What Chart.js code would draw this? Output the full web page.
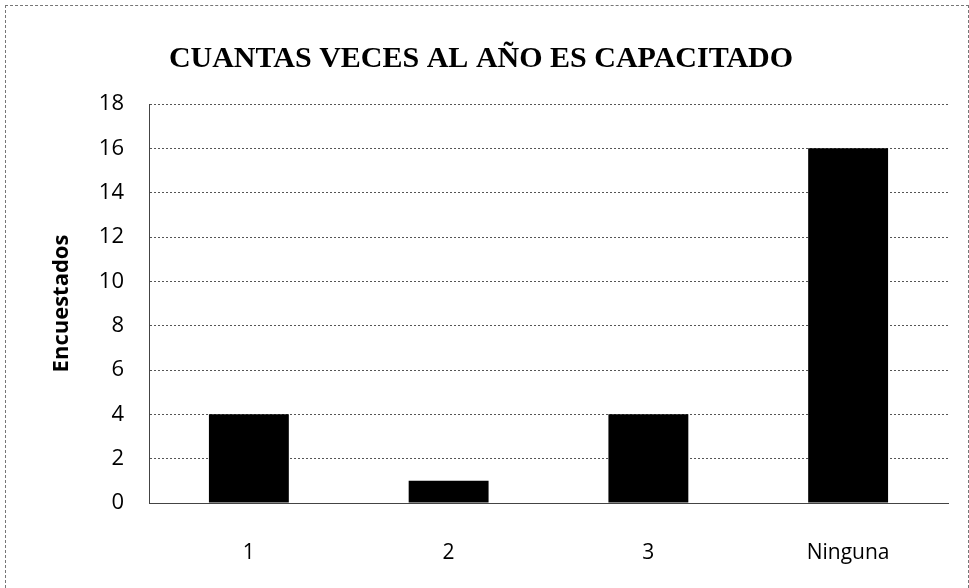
<!DOCTYPE html>
<html>
<head>
<meta charset="utf-8">
<script src="https://cdn.jsdelivr.net/npm/chart.js@4/dist/chart.umd.min.js"></script>
<style>
  html,body{margin:0;padding:0;background:#fff;}
  #wrap{position:absolute;left:5px;top:5px;width:964px;height:583px;box-sizing:border-box;border-left:1px dashed #777;border-top:1px dashed #777;border-right:1px dashed #777;}
</style>
</head>
<body>
<div id="wrap"><canvas id="c" width="962" height="582"></canvas></div>
<script>
const categories=["1","2","3","Ninguna"];
const encuestados=[4,1,4,16];
const yTicks=[0,2,4,6,8,10,12,14,16,18];

new Chart(document.getElementById("c"),{
  type:"bar",
  data:{
    labels:categories,
    datasets:[{
      label:"Encuestados",
      data:encuestados,
      backgroundColor:"#000",
      borderWidth:0,
      barPercentage:0.8,
      categoryPercentage:0.5
    }]
  },
  options:{
    responsive:false,
    animation:false,
    layout:{padding:{left:8,right:20,top:0,bottom:0}},
    plugins:{
      legend:{display:false},
      tooltip:{enabled:false},
      title:{
        display:true,
        text:"CUANTAS VECES AL AÑO ES CAPACITADO",
        color:"#000",
        font:{family:"Liberation Serif",size:30,weight:"bold"},
        padding:{top:35,bottom:27}
      }
    },
    scales:{
      x:{
        grid:{display:false,drawTicks:false},
        border:{display:true,color:"#444",width:1,dash:[2,2]},
        ticks:{color:"#000",font:{family:"Open Sans",size:21},padding:37},
        afterFit:s=>{s.height=85;}
      },
      y:{
        min:0,max:18,
        afterBuildTicks:s=>{s.ticks=yTicks.map(v=>({value:v}));},
        grid:{color:"#555",lineWidth:1,drawTicks:false},
        border:{display:true,color:"#444",width:1,dash:[2,2]},
        ticks:{color:"#000",font:{family:"Open Sans",size:22},padding:25},
        title:{display:true,text:"Encuestados",color:"#000",font:{family:"Open Sans",size:22,weight:"bold"},padding:{top:35,bottom:0}},
        afterFit:s=>{s.width=135;}
      }
    }
  }
});
</script>
</body>
</html>
